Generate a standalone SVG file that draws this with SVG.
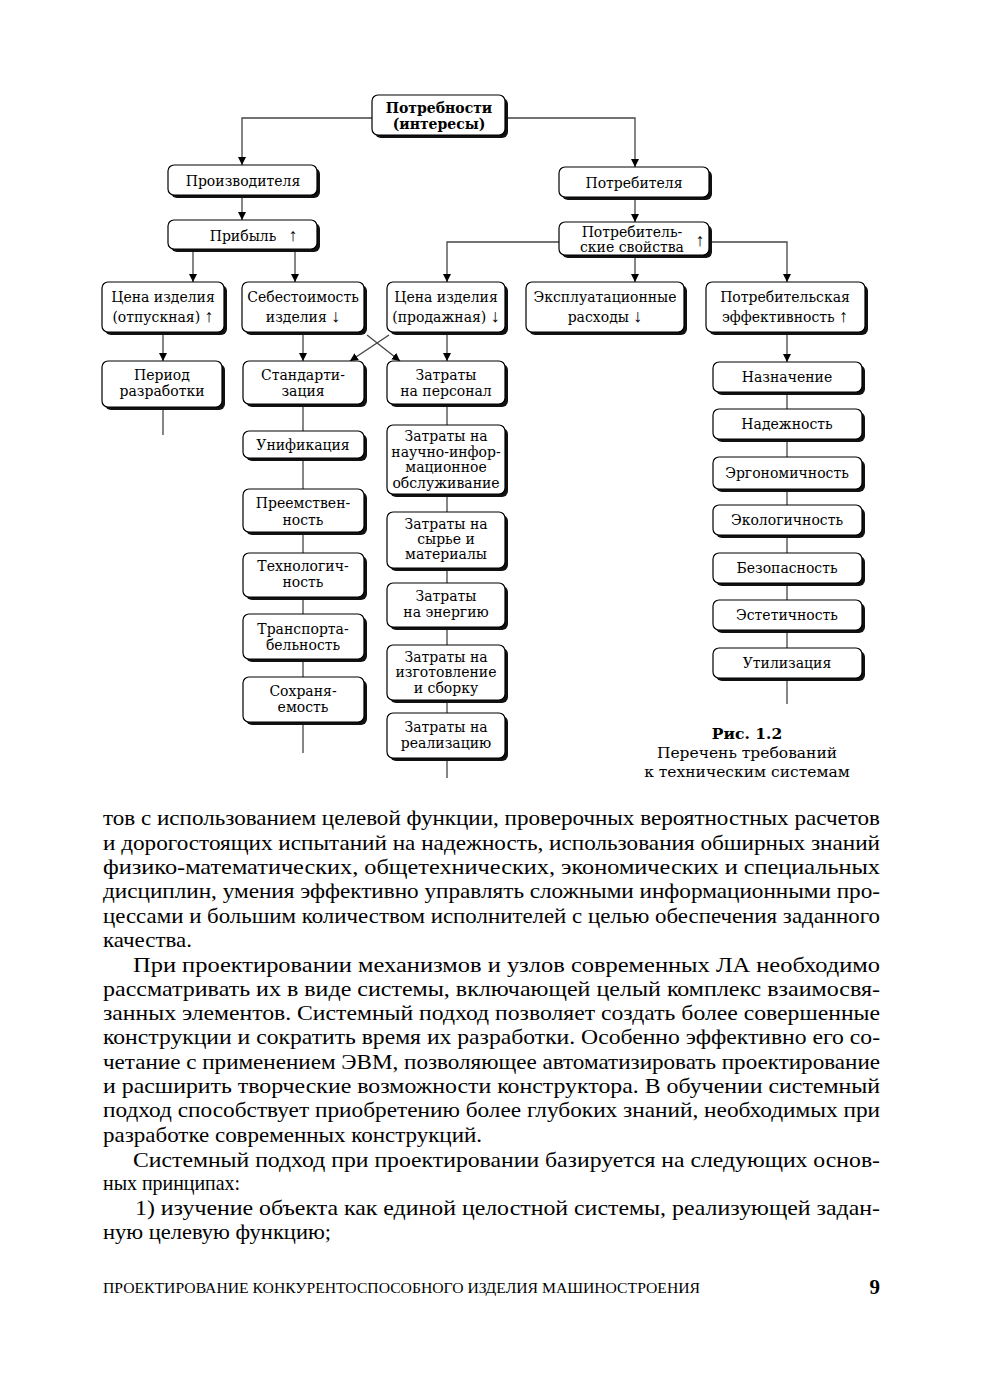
<svg xmlns="http://www.w3.org/2000/svg" width="987" height="1388" viewBox="0 0 987 1388">
<style>
.bx{fill:#fff;stroke:#000;stroke-width:1.2}
.sh{fill:#111}
.t{font-family:"DejaVu Serif","Liberation Serif",serif;font-size:14px;text-anchor:middle;fill:#000}
.tb{font-family:"DejaVu Serif","Liberation Serif",serif;font-size:14px;font-weight:bold;text-anchor:middle;fill:#000}
.a{font-family:"Liberation Serif","DejaVu Serif",serif;font-size:18px}
.c{stroke:#444;stroke-width:1.3;fill:none}
.body{font-family:"Liberation Serif",serif;font-size:21px;fill:#000}
.foot{font-family:"Liberation Serif",serif;font-size:14px;fill:#000}
.cap{font-family:"DejaVu Serif","Liberation Serif",serif;font-size:15.5px;text-anchor:middle;fill:#000}
</style>
<defs>
<marker id="ar" markerUnits="userSpaceOnUse" markerWidth="8" markerHeight="10" refX="8" refY="4" orient="auto">
<path d="M0,0 L8,4 L0,8 z" fill="#000"/>
</marker>
</defs>
<rect width="987" height="1388" fill="#fff"/>

<g id="connectors">
<polyline class="c" points="372,118 242,118 242,165" marker-end="url(#ar)"/>
<polyline class="c" points="505,118 635,118 635,167" marker-end="url(#ar)"/>
<line class="c" x1="242" y1="198" x2="242" y2="220" marker-end="url(#ar)"/>
<line class="c" x1="193" y1="252" x2="193" y2="282" marker-end="url(#ar)"/>
<line class="c" x1="295" y1="252" x2="295" y2="282" marker-end="url(#ar)"/>
<line class="c" x1="635" y1="200" x2="635" y2="222" marker-end="url(#ar)"/>
<polyline class="c" points="559,242 447,242 447,282" marker-end="url(#ar)"/>
<line class="c" x1="635" y1="258" x2="635" y2="282" marker-end="url(#ar)"/>
<polyline class="c" points="712,242 787,242 787,282" marker-end="url(#ar)"/>
<line class="c" x1="163" y1="335" x2="163" y2="361" marker-end="url(#ar)"/>
<line class="c" x1="303" y1="335" x2="303" y2="361" marker-end="url(#ar)"/>
<line class="c" x1="447" y1="335" x2="447" y2="361" marker-end="url(#ar)"/>
<line class="c" x1="367" y1="335" x2="400" y2="361" marker-end="url(#ar)"/>
<line class="c" x1="389" y1="335" x2="350" y2="361" marker-end="url(#ar)"/>
<line class="c" x1="787" y1="335" x2="787" y2="362" marker-end="url(#ar)"/>
<line class="c" x1="163" y1="410" x2="163" y2="435"/>
<line class="c" x1="303" y1="407" x2="303" y2="431"/>
<line class="c" x1="303" y1="461" x2="303" y2="489"/>
<line class="c" x1="303" y1="535" x2="303" y2="553"/>
<line class="c" x1="303" y1="600" x2="303" y2="614"/>
<line class="c" x1="303" y1="662" x2="303" y2="677"/>
<line class="c" x1="303" y1="725" x2="303" y2="753"/>
<line class="c" x1="447" y1="407" x2="447" y2="425"/>
<line class="c" x1="447" y1="497" x2="447" y2="512"/>
<line class="c" x1="447" y1="571" x2="447" y2="583"/>
<line class="c" x1="447" y1="630" x2="447" y2="645"/>
<line class="c" x1="447" y1="703" x2="447" y2="713"/>
<line class="c" x1="447" y1="761" x2="447" y2="778"/>
<line class="c" x1="787" y1="395" x2="787" y2="409"/>
<line class="c" x1="787" y1="442" x2="787" y2="457"/>
<line class="c" x1="787" y1="492" x2="787" y2="505"/>
<line class="c" x1="787" y1="538" x2="787" y2="553"/>
<line class="c" x1="787" y1="586" x2="787" y2="600"/>
<line class="c" x1="787" y1="633" x2="787" y2="648"/>
<line class="c" x1="787" y1="681" x2="787" y2="704"/>
</g>

<g id="n-potrebnosti">
<rect class="sh" x="375" y="98" width="133" height="40" rx="6"/>
<rect class="bx" x="372" y="95" width="133" height="40" rx="6"/>
<text class="tb" x="439" y="113">Потребности</text>
<text class="tb" x="439" y="129">(интересы)</text>
</g>
<g id="n-proizv">
<rect class="sh" x="171" y="168" width="149" height="30" rx="6"/>
<rect class="bx" x="168" y="165" width="149" height="30" rx="6"/>
<text class="t" x="243" y="186">Производителя</text>
</g>
<g id="n-pribyl">
<rect class="sh" x="171" y="223" width="149" height="29" rx="6"/>
<rect class="bx" x="168" y="220" width="149" height="29" rx="6"/>
<text class="t" y="241"><tspan x="243">Прибыль</tspan><tspan class="a" x="293">↑</tspan></text>
</g>
<g id="n-potrebitelya">
<rect class="sh" x="562" y="170" width="150" height="30" rx="6"/>
<rect class="bx" x="559" y="167" width="150" height="30" rx="6"/>
<text class="t" x="634" y="188">Потребителя</text>
</g>
<g id="n-svoystva">
<rect class="sh" x="562" y="225" width="150" height="33" rx="6"/>
<rect class="bx" x="559" y="222" width="150" height="33" rx="6"/>
<text class="t" x="632" y="237">Потребитель-</text>
<text class="t" x="632" y="252">ские свойства</text>
<text class="t a" x="700" y="246">↑</text>
</g>
<g id="n-cena-otp">
<rect class="sh" x="105" y="285" width="122" height="50" rx="6"/>
<rect class="bx" x="102" y="282" width="122" height="50" rx="6"/>
<text class="t" x="163" y="302">Цена изделия</text>
<text class="t" x="163" y="322">(отпускная) <tspan class="a">↑</tspan></text>
</g>
<g id="n-sebest">
<rect class="sh" x="245" y="285" width="122" height="50" rx="6"/>
<rect class="bx" x="242" y="282" width="122" height="50" rx="6"/>
<text class="t" x="303" y="302">Себестоимость</text>
<text class="t" x="303" y="322">изделия <tspan class="a">↓</tspan></text>
</g>
<g id="n-cena-prod">
<rect class="sh" x="390" y="285" width="118" height="50" rx="6"/>
<rect class="bx" x="387" y="282" width="118" height="50" rx="6"/>
<text class="t" x="446" y="302">Цена изделия</text>
<text class="t" x="446" y="322">(продажная) <tspan class="a">↓</tspan></text>
</g>
<g id="n-ekspl">
<rect class="sh" x="529" y="285" width="158" height="50" rx="6"/>
<rect class="bx" x="526" y="282" width="158" height="50" rx="6"/>
<text class="t" x="605" y="302">Эксплуатационные</text>
<text class="t" x="605" y="322">расходы <tspan class="a">↓</tspan></text>
</g>
<g id="n-effekt">
<rect class="sh" x="709" y="285" width="159" height="50" rx="6"/>
<rect class="bx" x="706" y="282" width="159" height="50" rx="6"/>
<text class="t" x="785" y="302">Потребительская</text>
<text class="t" x="785" y="322">эффективность <tspan class="a">↑</tspan></text>
</g>
<g id="n-period">
<rect class="sh" x="105" y="364" width="120" height="46" rx="6"/>
<rect class="bx" x="102" y="361" width="120" height="46" rx="6"/>
<text class="t" x="162" y="380">Период</text>
<text class="t" x="162" y="396">разработки</text>
</g>
<g id="n-standart">
<rect class="sh" x="246" y="364" width="121" height="43" rx="6"/>
<rect class="bx" x="243" y="361" width="121" height="43" rx="6"/>
<text class="t" x="303" y="380">Стандарти-</text>
<text class="t" x="303" y="396">зация</text>
</g>
<g id="n-unif">
<rect class="sh" x="246" y="434" width="121" height="27" rx="6"/>
<rect class="bx" x="243" y="431" width="121" height="27" rx="6"/>
<text class="t" x="303" y="450">Унификация</text>
</g>
<g id="n-preemst">
<rect class="sh" x="246" y="492" width="121" height="43" rx="6"/>
<rect class="bx" x="243" y="489" width="121" height="43" rx="6"/>
<text class="t" x="303" y="508">Преемствен-</text>
<text class="t" x="303" y="525">ность</text>
</g>
<g id="n-tehnol">
<rect class="sh" x="246" y="556" width="121" height="44" rx="6"/>
<rect class="bx" x="243" y="553" width="121" height="44" rx="6"/>
<text class="t" x="303" y="571">Технологич-</text>
<text class="t" x="303" y="587">ность</text>
</g>
<g id="n-transp">
<rect class="sh" x="246" y="617" width="121" height="45" rx="6"/>
<rect class="bx" x="243" y="614" width="121" height="45" rx="6"/>
<text class="t" x="303" y="634">Транспорта-</text>
<text class="t" x="303" y="650">бельность</text>
</g>
<g id="n-sohran">
<rect class="sh" x="246" y="680" width="121" height="45" rx="6"/>
<rect class="bx" x="243" y="677" width="121" height="45" rx="6"/>
<text class="t" x="303" y="696">Сохраня-</text>
<text class="t" x="303" y="712">емость</text>
</g>
<g id="n-z-person">
<rect class="sh" x="390" y="364" width="118" height="43" rx="6"/>
<rect class="bx" x="387" y="361" width="118" height="43" rx="6"/>
<text class="t" x="446" y="380">Затраты</text>
<text class="t" x="446" y="396">на персонал</text>
</g>
<g id="n-z-nauch">
<rect class="sh" x="390" y="428" width="118" height="69" rx="6"/>
<rect class="bx" x="387" y="425" width="118" height="69" rx="6"/>
<text class="t" x="446" y="441">Затраты на</text>
<text class="t" x="446" y="457">научно-инфор-</text>
<text class="t" x="446" y="472">мационное</text>
<text class="t" x="446" y="488">обслуживание</text>
</g>
<g id="n-z-syrye">
<rect class="sh" x="390" y="515" width="118" height="56" rx="6"/>
<rect class="bx" x="387" y="512" width="118" height="56" rx="6"/>
<text class="t" x="446" y="529">Затраты на</text>
<text class="t" x="446" y="544">сырье и</text>
<text class="t" x="446" y="559">материалы</text>
</g>
<g id="n-z-energ">
<rect class="sh" x="390" y="586" width="118" height="44" rx="6"/>
<rect class="bx" x="387" y="583" width="118" height="44" rx="6"/>
<text class="t" x="446" y="601">Затраты</text>
<text class="t" x="446" y="617">на энергию</text>
</g>
<g id="n-z-izgot">
<rect class="sh" x="390" y="648" width="118" height="55" rx="6"/>
<rect class="bx" x="387" y="645" width="118" height="55" rx="6"/>
<text class="t" x="446" y="662">Затраты на</text>
<text class="t" x="446" y="677">изготовление</text>
<text class="t" x="446" y="693">и сборку</text>
</g>
<g id="n-z-real">
<rect class="sh" x="390" y="716" width="118" height="45" rx="6"/>
<rect class="bx" x="387" y="713" width="118" height="45" rx="6"/>
<text class="t" x="446" y="732">Затраты на</text>
<text class="t" x="446" y="748">реализацию</text>
</g>
<g id="n-naznach">
<rect class="sh" x="716" y="365" width="149" height="30" rx="6"/>
<rect class="bx" x="713" y="362" width="149" height="30" rx="6"/>
<text class="t" x="787" y="382">Назначение</text>
</g>
<g id="n-nadezh">
<rect class="sh" x="716" y="412" width="149" height="30" rx="6"/>
<rect class="bx" x="713" y="409" width="149" height="30" rx="6"/>
<text class="t" x="787" y="429">Надежность</text>
</g>
<g id="n-ergon">
<rect class="sh" x="716" y="460" width="149" height="32" rx="6"/>
<rect class="bx" x="713" y="457" width="149" height="32" rx="6"/>
<text class="t" x="787" y="478">Эргономичность</text>
</g>
<g id="n-ekolog">
<rect class="sh" x="716" y="508" width="149" height="30" rx="6"/>
<rect class="bx" x="713" y="505" width="149" height="30" rx="6"/>
<text class="t" x="787" y="525">Экологичность</text>
</g>
<g id="n-bezop">
<rect class="sh" x="716" y="556" width="149" height="30" rx="6"/>
<rect class="bx" x="713" y="553" width="149" height="30" rx="6"/>
<text class="t" x="787" y="573">Безопасность</text>
</g>
<g id="n-estet">
<rect class="sh" x="716" y="603" width="149" height="30" rx="6"/>
<rect class="bx" x="713" y="600" width="149" height="30" rx="6"/>
<text class="t" x="787" y="620">Эстетичность</text>
</g>
<g id="n-utiliz">
<rect class="sh" x="716" y="651" width="149" height="30" rx="6"/>
<rect class="bx" x="713" y="648" width="149" height="30" rx="6"/>
<text class="t" x="787" y="668">Утилизация</text>
</g>

<g id="caption">
<text class="cap" x="747" y="739" font-weight="bold" font-size="14.5">Рис. 1.2</text>
<text class="cap" x="747" y="758">Перечень требований</text>
<text class="cap" x="747" y="777">к техническим системам</text>
</g>

<g id="body-text" class="body">
<text x="103" y="825" textLength="777" lengthAdjust="spacingAndGlyphs">тов с использованием целевой функции, проверочных вероятностных расчетов</text>
<text x="103" y="850" textLength="777" lengthAdjust="spacingAndGlyphs">и дорогостоящих испытаний на надежность, использования обширных знаний</text>
<text x="103" y="874" textLength="777" lengthAdjust="spacingAndGlyphs">физико-математических, общетехнических, экономических и специальных</text>
<text x="103" y="898" textLength="777" lengthAdjust="spacingAndGlyphs">дисциплин, умения эффективно управлять сложными информационными про-</text>
<text x="103" y="923" textLength="777" lengthAdjust="spacingAndGlyphs">цессами и большим количеством исполнителей с целью обеспечения заданного</text>
<text x="103" y="947" textLength="89" lengthAdjust="spacingAndGlyphs">качества.</text>
<text x="133" y="972" textLength="747" lengthAdjust="spacingAndGlyphs">При проектировании механизмов и узлов современных ЛА необходимо</text>
<text x="103" y="996" textLength="777" lengthAdjust="spacingAndGlyphs">рассматривать их в виде системы, включающей целый комплекс взаимосвя-</text>
<text x="103" y="1020" textLength="777" lengthAdjust="spacingAndGlyphs">занных элементов. Системный подход позволяет создать более совершенные</text>
<text x="103" y="1044" textLength="777" lengthAdjust="spacingAndGlyphs">конструкции и сократить время их разработки. Особенно эффективно его со-</text>
<text x="103" y="1069" textLength="777" lengthAdjust="spacingAndGlyphs">четание с применением ЭВМ, позволяющее автоматизировать проектирование</text>
<text x="103" y="1093" textLength="777" lengthAdjust="spacingAndGlyphs">и расширить творческие возможности конструктора. В обучении системный</text>
<text x="103" y="1117" textLength="777" lengthAdjust="spacingAndGlyphs">подход способствует приобретению более глубоких знаний, необходимых при</text>
<text x="103" y="1142" textLength="379" lengthAdjust="spacingAndGlyphs">разработке современных конструкций.</text>
<text x="133" y="1167" textLength="747" lengthAdjust="spacingAndGlyphs">Системный подход при проектировании базируется на следующих основ-</text>
<text x="103" y="1190" textLength="137" lengthAdjust="spacingAndGlyphs">ных принципах:</text>
<text x="135" y="1215" textLength="745" lengthAdjust="spacingAndGlyphs">1) изучение объекта как единой целостной системы, реализующей задан-</text>
<text x="103" y="1239" textLength="228" lengthAdjust="spacingAndGlyphs">ную целевую функцию;</text>
</g>

<g id="footer">
<text class="foot" x="103" y="1293" textLength="597" lengthAdjust="spacingAndGlyphs">ПРОЕКТИРОВАНИЕ КОНКУРЕНТОСПОСОБНОГО ИЗДЕЛИЯ МАШИНОСТРОЕНИЯ</text>
<text x="880" y="1294" text-anchor="end" font-family="Liberation Serif, serif" font-size="21" font-weight="bold">9</text>
</g>
</svg>
